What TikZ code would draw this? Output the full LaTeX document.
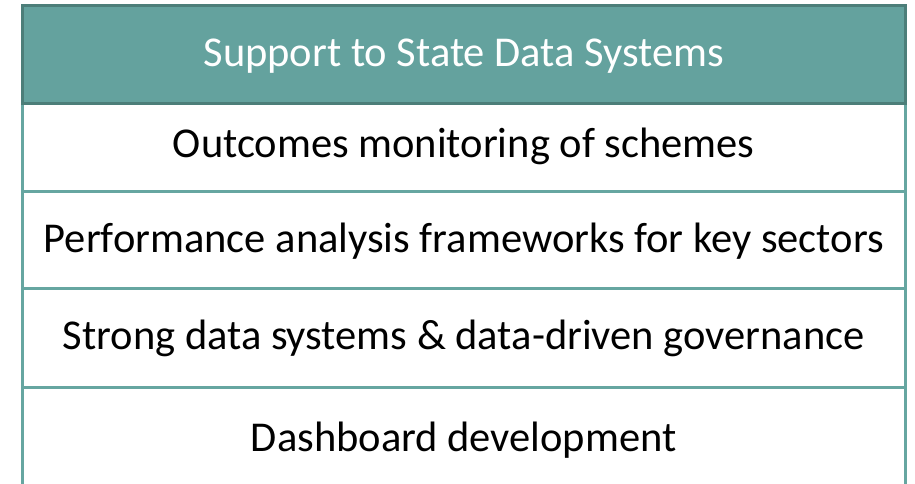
\documentclass[tikz,border=0pt]{standalone}
\usepackage{fontspec}
\setmainfont{Carlito}
\definecolor{tealfill}{RGB}{100,162,158}
\definecolor{tealdark}{RGB}{76,126,121}
\definecolor{tealline}{RGB}{102,166,161}
\tikzset{
  rowtext/.style={anchor=base, font=\fontsize{42.5}{50}\selectfont, text=black, inner sep=0pt},
  headtext/.style={anchor=base, font=\fontsize{42.5}{50}\selectfont, text=white, inner sep=0pt},
  rowline/.style={draw=tealline, line width=3pt}
}
\begin{document}
\begin{tikzpicture}[x=1pt,y=1pt]
\useasboundingbox (0,0) rectangle (915,484);
% vertical borders
\coordinate (l0) at (22,380.5);
\coordinate (l1) at (22,0);
\coordinate (r0) at (905.5,380.5);
\coordinate (r1) at (905.5,0);
\draw[rowline] (l0) -- (l1);
\draw[rowline] (r0) -- (r1);
% row separators
\coordinate (a0) at (22,292.5); \coordinate (a1) at (905.5,292.5);
\coordinate (b0) at (22,195.5); \coordinate (b1) at (905.5,195.5);
\coordinate (c0) at (22,96.5);  \coordinate (c1) at (905.5,96.5);
\draw[rowline] (a0) -- (a1);
\draw[rowline] (b0) -- (b1);
\draw[rowline] (c0) -- (c1);
% header
\draw[fill=tealfill, draw=tealdark, line width=3pt] (22,380.5) rectangle (905.5,478.5);
\node[headtext] (h) at (463.75,417.5) {Support to State Data Systems};
\node[rowtext] (t1) at (463.75,326.5) {Outcomes monitoring of schemes};
\node[rowtext] (t2) at (463.75,231) {Performance analysis frameworks for key sectors};
\node[rowtext] (t3) at (463.75,134) {Strong data systems \& data-driven governance};
\node[rowtext] (t4) at (463.75,32.5) {Dashboard development};
\end{tikzpicture}
\end{document}
